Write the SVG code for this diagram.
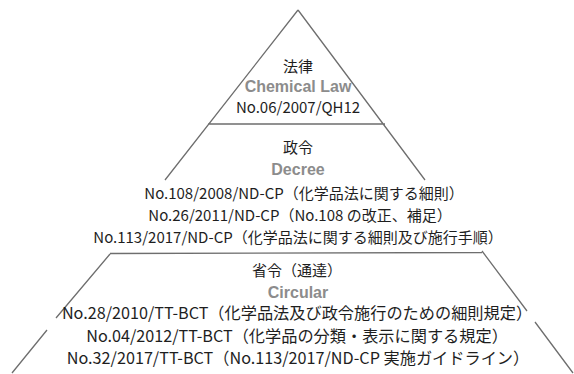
<svg xmlns="http://www.w3.org/2000/svg" width="574" height="374" viewBox="0 0 574 374">
<style>
.edge{stroke:#6e6e6e;stroke-width:1.3;fill:none;stroke-linecap:butt}
.jp{font-family:"Noto Sans CJK JP","Noto Sans",sans-serif;font-size:15px;fill:#1e1e1e;text-anchor:middle}
.big{font-size:16.2px}
.en{font-family:"Liberation Sans",Arial,sans-serif;font-size:16px;font-weight:bold;fill:#8c8c8c;text-anchor:middle}
</style>
<rect width="574" height="374" fill="#fff"/>
<g id="connectors">
<path class="edge" d="M298,10 L165,180 M298,10 L425,180 M208,124 L385,124"/>
<path class="edge" d="M110,254 L56,318 M47,330 L12,373 M110,253.5 L482,252.5 M482,251 L527,311 M535,322 L573,373"/>
</g>
<g id="law">
<text class="jp" x="298" y="72">法律</text>
<text class="en" x="298" y="92">Chemical Law</text>
<text class="jp" x="298" y="113">No.06/2007/QH12</text>
</g>
<g id="decree">
<text class="jp" x="298" y="153">政令</text>
<text class="en" x="298" y="175">Decree</text>
<text class="jp" x="304" y="199">No.108/2008/ND-CP（化学品法に関する細則）</text>
<text class="jp" x="300" y="221">No.26/2011/ND-CP（No.108 の改正、補足）</text>
<text class="jp" x="298" y="243">No.113/2017/ND-CP（化学品法に関する細則及び施行手順）</text>
</g>
<g id="circular">
<text class="jp" x="297" y="276">省令（通達）</text>
<text class="en" x="298" y="298">Circular</text>
<text class="jp big" x="297" y="319">No.28/2010/TT-BCT（化学品法及び政令施行のための細則規定）</text>
<text class="jp big" x="297" y="342">No.04/2012/TT-BCT（化学品の分類・表示に関する規定）</text>
<text class="jp big" x="298" y="364">No.32/2017/TT-BCT（No.113/2017/ND-CP 実施ガイドライン）</text>
</g>
</svg>
